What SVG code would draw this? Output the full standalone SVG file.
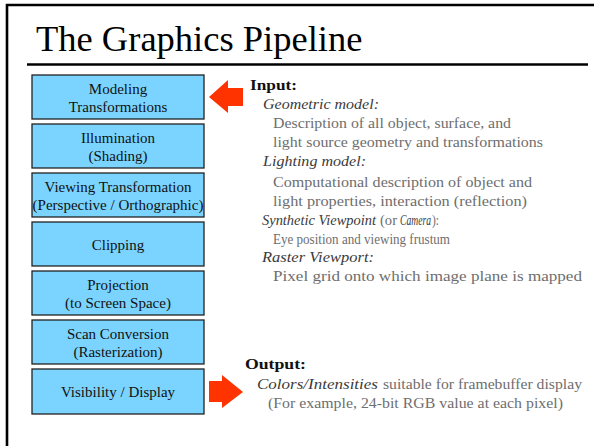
<svg xmlns="http://www.w3.org/2000/svg" width="594" height="446" viewBox="0 0 594 446">
<style>
.frame{stroke:#000;fill:none}
.box rect{fill:#7bd4ff;stroke:#222;stroke-width:1.3}
.box text{font-family:'Liberation Serif','Times New Roman',serif;font-size:15px;fill:#111;text-anchor:middle}
.arrow{fill:#ff3300}
.rt text{font-family:'Liberation Serif','Times New Roman',serif;font-size:15.5px}
.title{font-family:'Liberation Serif','Times New Roman',serif;font-size:36.5px;fill:#000}
.h{font-weight:bold;fill:#111}
.i{font-style:italic;fill:#3a3a3a}
.b{fill:#6e6e6e}
</style>
<rect width="594" height="446" fill="#fff"/>
<line class="frame" x1="7" y1="4" x2="7" y2="446" stroke-width="2.6"/>
<line class="frame" x1="6" y1="5" x2="594" y2="5" stroke-width="2.4"/>
<line class="frame" x1="27" y1="64.5" x2="588" y2="64.5" stroke-width="2.6"/>
<text class="title" x="36" y="51">The Graphics Pipeline</text>

<g id="modeling" class="box"><rect x="32" y="75" width="172" height="44"/><text x="118" y="94">Modeling</text><text x="118" y="112">Transformations</text></g>
<g id="illumination" class="box"><rect x="32" y="124" width="172" height="44"/><text x="118" y="143">Illumination</text><text x="118" y="161">(Shading)</text></g>
<g id="viewing" class="box"><rect x="32" y="173" width="172" height="44"/><text x="118" y="192">Viewing Transformation</text><text x="118" y="210">(Perspective / Orthographic)</text></g>
<g id="clipping" class="box"><rect x="32" y="222" width="172" height="44"/><text x="118" y="249.5">Clipping</text></g>
<g id="projection" class="box"><rect x="32" y="271" width="172" height="44"/><text x="118" y="290">Projection</text><text x="118" y="308">(to Screen Space)</text></g>
<g id="scan" class="box"><rect x="32" y="320" width="172" height="44"/><text x="118" y="339">Scan Conversion</text><text x="118" y="357">(Rasterization)</text></g>
<g id="visibility" class="box"><rect x="32" y="369" width="172" height="45"/><text x="118" y="396.5">Visibility / Display</text></g>

<g id="connectors">
<polygon class="arrow" points="209,97 228,80 228,88 243,88 243,106 228,106 228,113"/>
<polygon class="arrow" points="243,392 222,375 222,381 209,381 209,402 222,402 222,408"/>
</g>

<g id="input" class="rt">
<text class="h" x="250" y="89.5" textLength="47" lengthAdjust="spacingAndGlyphs">Input:</text>
<text class="i" x="263" y="108.5" textLength="116" lengthAdjust="spacingAndGlyphs">Geometric model:</text>
<text class="b" x="273" y="127.5" textLength="238" lengthAdjust="spacingAndGlyphs">Description of all object, surface, and</text>
<text class="b" x="273" y="146.5" textLength="270" lengthAdjust="spacingAndGlyphs">light source geometry and transformations</text>
<text class="i" x="263" y="165.5" textLength="103" lengthAdjust="spacingAndGlyphs">Lighting model:</text>
<text class="b" x="273" y="186.5" textLength="259" lengthAdjust="spacingAndGlyphs">Computational description of object and</text>
<text class="b" x="273" y="205.5" textLength="254" lengthAdjust="spacingAndGlyphs">light properties, interaction (reflection)</text>
<text class="i" x="262" y="224.5" textLength="114" lengthAdjust="spacingAndGlyphs">Synthetic Viewpoint</text>
<text class="b" x="380" y="224.5" textLength="17" lengthAdjust="spacingAndGlyphs">(or</text>
<text class="i" x="400" y="224.5" textLength="31" lengthAdjust="spacingAndGlyphs">Camera</text>
<text class="b" x="432" y="224.5" textLength="7" lengthAdjust="spacingAndGlyphs">):</text>
<text class="b" x="273" y="243.5" textLength="177" lengthAdjust="spacingAndGlyphs">Eye position and viewing frustum</text>
<text class="i" x="262" y="262" textLength="112" lengthAdjust="spacingAndGlyphs">Raster Viewport:</text>
<text class="b" x="273" y="281" textLength="309" lengthAdjust="spacingAndGlyphs">Pixel grid onto which image plane is mapped</text>
</g>
<g id="output" class="rt">
<text class="h" x="245" y="369" textLength="61" lengthAdjust="spacingAndGlyphs">Output:</text>
<text class="i" x="257" y="389" textLength="121" lengthAdjust="spacingAndGlyphs">Colors/Intensities</text>
<text class="b" x="383" y="389" textLength="199" lengthAdjust="spacingAndGlyphs">suitable for framebuffer display</text>
<text class="b" x="268" y="408" textLength="295" lengthAdjust="spacingAndGlyphs">(For example, 24-bit RGB value at each pixel)</text>
</g>
</svg>
